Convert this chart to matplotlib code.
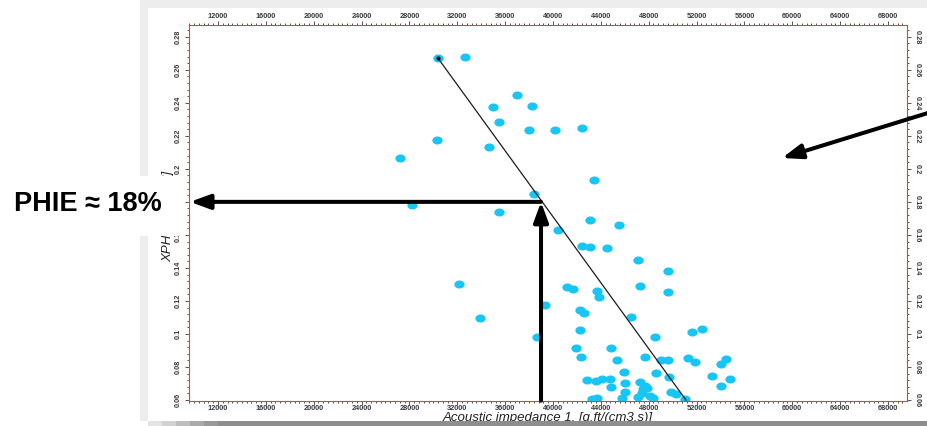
import numpy as np
import matplotlib
matplotlib.use('Agg')
import matplotlib.pyplot as plt
from matplotlib.patches import Rectangle
from matplotlib.path import Path
from matplotlib.ticker import MultipleLocator, AutoMinorLocator, FuncFormatter

plt.rcParams['font.family'] = ['Liberation Sans', 'DejaVu Sans']

# acoustic impedance [g.ft/(cm3.s)] vs effective porosity
ai = [30389, 32645, 36966, 35011, 38220, 35487, 38020, 40168, 42425, 30330,
      34651, 27212, 38412, 28190, 35487, 43427, 43093, 45515, 40417, 42424,
      43093, 44513, 47104, 49611, 32143, 41169, 41671, 43677, 43844, 47271,
      49611, 39331, 33898, 38662,
      42256, 42590, 46518, 42256, 51617, 52453, 48524, 41922, 44847, 42340,
      45348, 47689, 49026, 49611, 51283, 51868, 54459, 54041, 45933, 48608,
      49695, 42841, 43593, 44095, 44763, 44847, 46017, 47271, 47856, 47522,
      47438, 53289, 54793, 54041, 46017, 45766, 43259, 43677, 47104, 48357,
      49862, 50279, 51032, 47689, 48106]
phie = [0.267, 0.268, 0.2447, 0.2373, 0.238, 0.2286, 0.2235, 0.2235, 0.2247, 0.2175,
        0.2134, 0.2064, 0.1848, 0.1781, 0.174, 0.1933, 0.169, 0.166, 0.163, 0.1533,
        0.1527, 0.1521, 0.1448, 0.1381, 0.1303, 0.1284, 0.1272, 0.126, 0.1224, 0.129,
        0.1254, 0.1175, 0.1097, 0.0982,
        0.1145, 0.1127, 0.1103, 0.1024, 0.1012, 0.103, 0.0982, 0.0915, 0.0915, 0.086,
        0.0842, 0.086, 0.0842, 0.0842, 0.0854, 0.083, 0.0848, 0.0818, 0.077, 0.0764,
        0.0739, 0.0721, 0.0715, 0.0727, 0.0727, 0.0679, 0.0703, 0.0709, 0.0673, 0.0667,
        0.0642, 0.0745, 0.0727, 0.0685, 0.0648, 0.0612, 0.0606, 0.0612, 0.0618, 0.0612,
        0.0648, 0.0636, 0.0606, 0.0685, 0.0624]

# trend line end points
trend_ai = [30389, 51115]
trend_phie = [0.267, 0.06]

# porosity
ai_read = 39000
phie_read = 0.18

xticks = list(range(12000, 68001, 4000))
yticks = [0.06, 0.08, 0.10, 0.12, 0.14, 0.16, 0.18, 0.20, 0.22, 0.24, 0.26, 0.28]

W, H = 927, 426
fig = plt.figure(figsize=(W / 100, H / 100), dpi=100)
fig.patch.set_facecolor('white')


def box(x0, y0, x1, y1, color, z):
    # rectangle given in pixels from the top-left corner
    r = Rectangle((x0 / W, 1 - y1 / H), (x1 - x0) / W, (y1 - y0) / H,
                  transform=fig.transFigure, facecolor=color, edgecolor='none', zorder=z)
    fig.add_artist(r)


# picture frame behind the plot
box(140, 0, W, 421, '#ededed', -3)
box(148, 8, W, 421, 'white', -2)

ax = fig.add_axes([189 / W, 1 - 400.7 / H, 718 / W, 375.7 / H])
ax.set_facecolor('white')

t = np.linspace(0, 2 * np.pi, 40)
ellipse = Path(np.column_stack([np.cos(t), 0.78 * np.sin(t)]))
ax.scatter(ai, phie, marker=ellipse, s=55, color='#18c6f5', linewidths=0, zorder=2)

ax.plot(trend_ai, trend_phie, color='#1c1c1c', lw=0.9, zorder=3)
ax.plot(trend_ai[0], trend_phie[0], 'o', color='black', ms=2, zorder=4)

ax.set_xlim(9576, 69590)
ax.set_ylim(0.0596, 0.2871)

ax.xaxis.set_minor_locator(AutoMinorLocator(10))
ax.yaxis.set_minor_locator(AutoMinorLocator(5))
ax.set_xticks(xticks)
ax.set_yticks(yticks)
ax.xaxis.set_minor_locator(MultipleLocator(400))
ax.yaxis.set_minor_locator(MultipleLocator(0.004))
ax.yaxis.set_major_formatter(FuncFormatter(lambda v, p: '{:g}'.format(round(v, 2))))

for s in ax.spines.values():
    s.set_color('#f03a3a')
    s.set_linewidth(0.8)

ax.tick_params(which='both', direction='out', colors='#3a3a3a', width=0.6,
               top=True, right=True, labeltop=True, labelright=True)
ax.tick_params(which='major', length=2.6)
ax.tick_params(which='minor', length=1.5)
ax.tick_params(axis='x', which='major', pad=0.8, labelsize=5.3)
ax.tick_params(axis='y', which='major', pad=2.5, labelsize=5.3)

for tk in ax.xaxis.get_major_ticks():
    tk.label1.set_fontweight('bold')
    tk.label2.set_fontweight('bold')
for tk in ax.yaxis.get_major_ticks():
    tk.label1.set_fontweight('bold')
    tk.label2.set_fontweight('bold')
    tk.label1.set_rotation(90)
    tk.label1.set_va('center')
    tk.label2.set_rotation(-90)
    tk.label2.set_va('center')

ax.set_xlabel('Acoustic impedance 1. [g.ft/(cm3.s)]', fontsize=9.5,
              fontstyle='italic', color='#222222')
ax.xaxis.set_label_coords(0.5, -0.046)
ax.xaxis.label.set_va('center')
ax.set_ylabel('XPHIE [m3/m3]', fontsize=9.5, fontstyle='italic', color='#222222')
ax.yaxis.set_label_coords(-0.029, 0.49)
ax.yaxis.label.set_va('center')

# reading arrows: up from the impedance axis, then across to porosity
head = dict(arrowstyle='-|>,head_length=0.6,head_width=0.22', mutation_scale=20,
            lw=2.9, color='black', shrinkA=0, shrinkB=0)
ax.annotate('', xy=(ai_read, phie_read), xytext=(ai_read, 0.0596),
            arrowprops=head, annotation_clip=False, zorder=5)
ax.annotate('', xy=(9660, phie_read), xytext=(ai_read, phie_read),
            arrowprops=head, annotation_clip=False, zorder=5)
ax.annotate('', xy=(0.826, 0.646), xycoords='axes fraction',
            xytext=(1.06, 0.784), textcoords='axes fraction',
            arrowprops=head, annotation_clip=False, zorder=5)

# value label on a white box
box(0, 176, 182, 236, 'white', 6)
fig.text(14 / W, 1 - 204 / H, 'PHIE \u2248 18%', fontsize=19.5, fontweight='bold',
         ha='left', va='center', color='black', zorder=7)

# bottom edge of the frame
box(148, 421, W, H, '#8e8e8e', 10)
for i, c in enumerate(['#e4e4e4', '#d2d2d2', '#bebebe', '#aaaaaa', '#9a9a9a']):
    box(148 + i * 14, 421, 148 + (i + 1) * 14, H, c, 11)

fig.savefig('out.png', dpi=100)
